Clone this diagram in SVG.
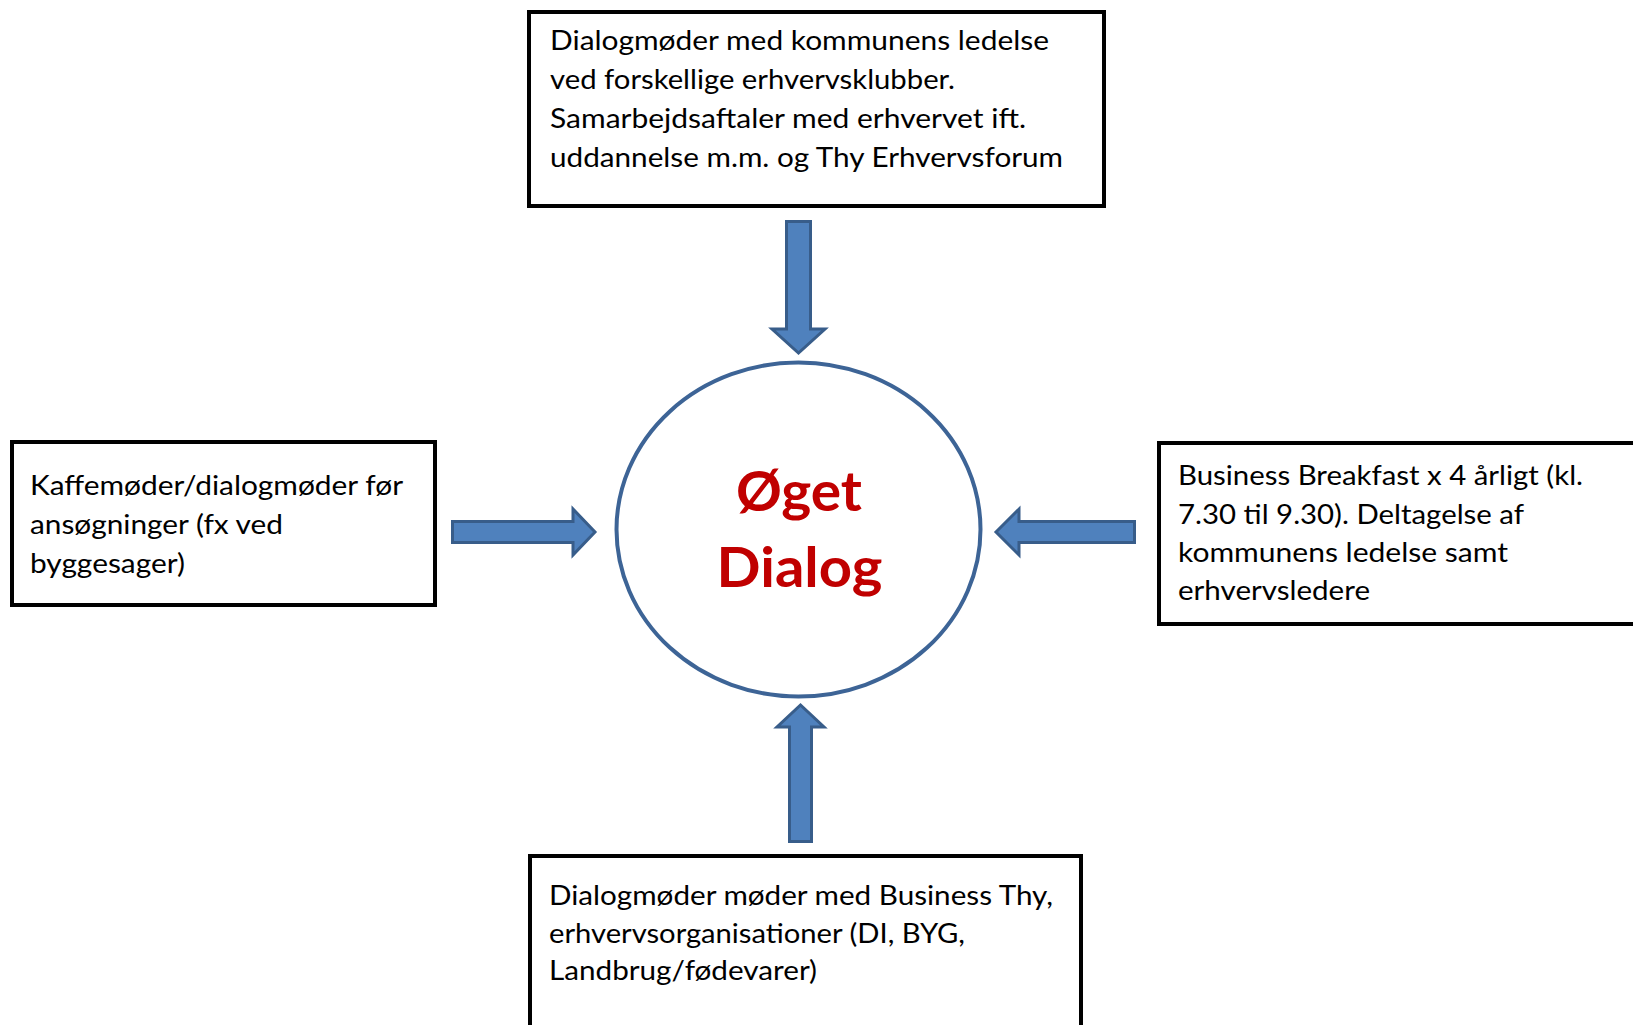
<svg xmlns="http://www.w3.org/2000/svg" width="1633" height="1025" viewBox="0 0 1633 1025">
<style>
.box{fill:#ffffff;stroke:#000000;stroke-width:4}
.txt{font-family:Lato,"Open Sans","Liberation Sans",sans-serif;font-size:27px;fill:#000000}
.arrow{fill:#4F81BD;stroke:#385D8A;stroke-width:3;stroke-linejoin:miter}
.circ{fill:#ffffff;stroke:#3D6496;stroke-width:4}
.title{font-family:Lato,"Open Sans","Liberation Sans",sans-serif;font-size:55px;font-weight:bold;fill:#C00000;text-anchor:middle}
</style>
<rect width="1633" height="1025" fill="#ffffff"/>
<g id="connectors">
<polygon class="arrow" points="786.5,221.5 810.5,221.5 810.5,329 825,329 798.5,353 772,329 786.5,329"/>
<polygon class="arrow" points="789.5,841.5 811.5,841.5 811.5,727 824,727 800.5,705 777,727 789.5,727"/>
<polygon class="arrow" points="452.5,521.5 573,521.5 573,509 595,532 573,555 573,542.5 452.5,542.5"/>
<polygon class="arrow" points="1134.5,521.5 1019,521.5 1019,509 996,532 1019,555 1019,542.5 1134.5,542.5"/>
</g>
<g id="center">
<ellipse class="circ" cx="798.5" cy="529.5" rx="182" ry="167"/>
<text class="title" x="799" y="511" textLength="126" lengthAdjust="spacingAndGlyphs">Øget</text>
<text class="title" x="799.5" y="587" textLength="166" lengthAdjust="spacingAndGlyphs">Dialog</text>
</g>
<g id="top">
<rect class="box" x="529" y="12" width="575" height="194"/>
<text class="txt" x="550" y="49.5" textLength="499" lengthAdjust="spacingAndGlyphs">Dialogmøder med kommunens ledelse</text>
<text class="txt" x="550" y="88.5" textLength="405" lengthAdjust="spacingAndGlyphs">ved forskellige erhvervsklubber.</text>
<text class="txt" x="550" y="127.5" textLength="476" lengthAdjust="spacingAndGlyphs">Samarbejdsaftaler med erhvervet ift.</text>
<text class="txt" x="550" y="166.5" textLength="513" lengthAdjust="spacingAndGlyphs">uddannelse m.m. og Thy Erhvervsforum</text>
</g>
<g id="left">
<rect class="box" x="12" y="442" width="423" height="163"/>
<text class="txt" x="30" y="495" textLength="373" lengthAdjust="spacingAndGlyphs">Kaffemøder/dialogmøder før</text>
<text class="txt" x="30" y="534" textLength="253" lengthAdjust="spacingAndGlyphs">ansøgninger (fx ved</text>
<text class="txt" x="30" y="572.5" textLength="155" lengthAdjust="spacingAndGlyphs">byggesager)</text>
</g>
<g id="right">
<rect class="box" x="1159" y="443" width="500" height="181"/>
<text class="txt" x="1178" y="485" textLength="405" lengthAdjust="spacingAndGlyphs">Business Breakfast x 4 årligt (kl.</text>
<text class="txt" x="1178" y="524" textLength="346" lengthAdjust="spacingAndGlyphs">7.30 til 9.30). Deltagelse af</text>
<text class="txt" x="1178" y="562" textLength="330" lengthAdjust="spacingAndGlyphs">kommunens ledelse samt</text>
<text class="txt" x="1178" y="600" textLength="192" lengthAdjust="spacingAndGlyphs">erhvervsledere</text>
</g>
<g id="bottom">
<rect class="box" x="530" y="856" width="551" height="200"/>
<text class="txt" x="549" y="905" textLength="504" lengthAdjust="spacingAndGlyphs">Dialogmøder møder med Business Thy,</text>
<text class="txt" x="549" y="943" textLength="416" lengthAdjust="spacingAndGlyphs">erhvervsorganisationer (DI, BYG,</text>
<text class="txt" x="549" y="980" textLength="268" lengthAdjust="spacingAndGlyphs">Landbrug/fødevarer)</text>
</g>
</svg>
